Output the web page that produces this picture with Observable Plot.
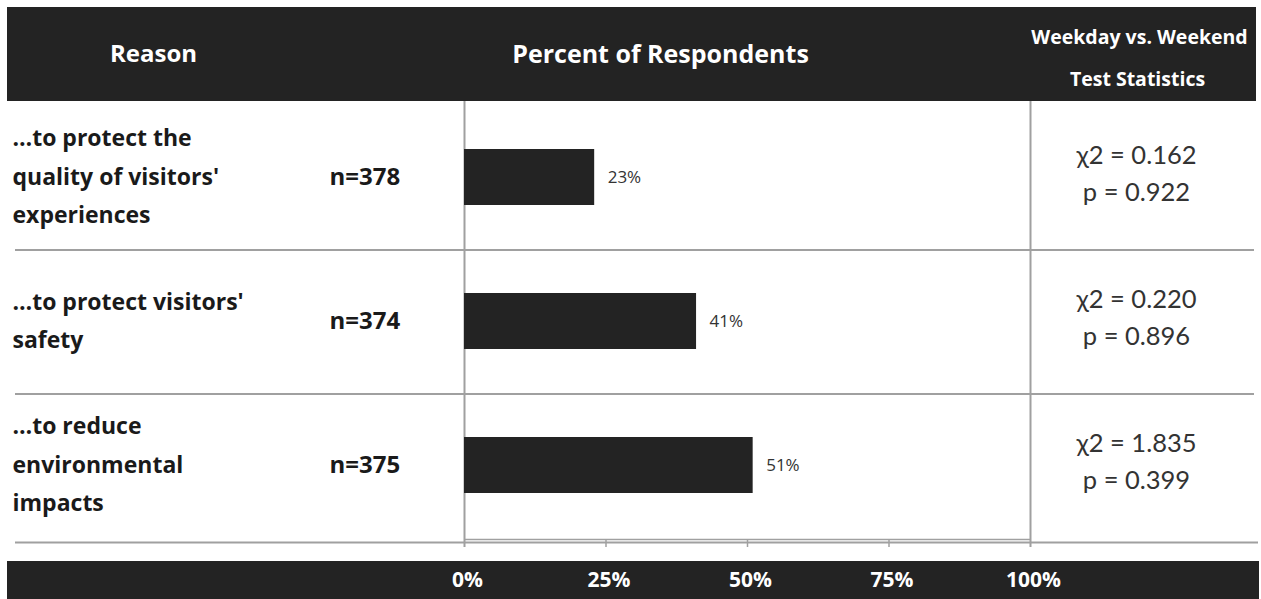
<!DOCTYPE html>
<html>
<head>
<meta charset="utf-8">
<script src="https://cdn.jsdelivr.net/npm/d3@7"></script>
<script src="https://cdn.jsdelivr.net/npm/@observablehq/plot@0.6"></script>
<style>
  html, body { margin: 0; padding: 0; background: #fff; }
  #wrap { position: relative; width: 1261px; height: 599px; overflow: hidden; }
  .band { position: absolute; background: #232323; }
  #wrap svg { position: absolute; left: 0; top: 0; }
</style>
</head>
<body>
<div id="wrap">
  <div class="band" style="left:7px;top:7px;width:1249px;height:94px;"></div>
  <div class="band" style="left:7px;top:561px;width:1252px;height:38px;"></div>
</div>
<script>
// ---- data ----
const reasons = [
  "…to protect the quality of visitors' experiences",
  "…to protect visitors' safety",
  "…to reduce environmental impacts"
];
const reasonLabels = [
  "…to protect the\nquality of visitors'\nexperiences",
  "…to protect visitors'\nsafety",
  "…to reduce\nenvironmental\nimpacts"
];
const nValues = [378, 374, 375];
const percents = [23, 41, 51];
const chiSquare = ["0.162", "0.220", "1.835"];
const pValues = ["0.922", "0.896", "0.399"];
const xTicks = [0, 25, 50, 75, 100];
const headers = ["Reason", "Percent of Respondents", "Weekday vs. Weekend", "Test Statistics"];

const rows = reasons.map((r, i) => ({
  reason: r, label: reasonLabels[i], n: nValues[i], pct: percents[i], chi: chiSquare[i], p: pValues[i]
}));

const bodyFont = "Open Sans";
const gridColor = "#a0a0a0";
const last = reasons.slice(-1);

const chart = Plot.plot({
  width: 1261,
  height: 599,
  margin: 0,
  style: { background: "transparent", overflow: "visible" },
  x: { domain: [0, 100], range: [464, 1030], axis: null },
  y: { domain: reasons, range: [103.6, 538], padding: 0, axis: null },
  marks: [
    // row separators
    Plot.ruleY(reasons.slice(0, -1), { y: d => d, dy: 72.4, stroke: gridColor, strokeWidth: 2, insetLeft: 15, insetRight: 7 }),
    Plot.ruleY(last, { y: d => d, dy: 77, stroke: gridColor, strokeWidth: 2, insetLeft: 15, insetRight: 3 }),
    Plot.ruleY(last, { y: d => d, x1: 0, x2: 100, dy: 74, stroke: gridColor, strokeWidth: 1.5 }),
    // plot area frame
    Plot.ruleX([0, 100], { x: d => d, stroke: gridColor, strokeWidth: 2, insetTop: 101, insetBottom: 52 }),
    Plot.ruleX(xTicks.slice(1, -1), { x: d => d, stroke: gridColor, strokeWidth: 1.5, insetTop: 540, insetBottom: 52 }),
    // bars
    Plot.barX(rows, { x: "pct", y: "reason", fill: "#232323", insetTop: 44, insetBottom: 44 }),
    Plot.text(rows, { x: "pct", y: "reason", text: d => d.pct + "%", textAnchor: "start", dx: 13, fontSize: 17, fill: "#333", fontFamily: bodyFont }),
    // reason labels
    Plot.text(rows, { y: "reason", text: "label", frameAnchor: "left", dx: 12, dy: -5, textAnchor: "start",
      lineHeight: 1.67, fontSize: 23, fontWeight: "bold", fill: "#1a1a1a", fontFamily: bodyFont }),
    // sample sizes
    Plot.text(rows, { y: "reason", text: d => "n=" + d.n, frameAnchor: "left", dx: 329, textAnchor: "start",
      fontSize: 24, fontWeight: "bold", fill: "#1a1a1a", fontFamily: bodyFont }),
    // test statistics
    Plot.text(rows, { y: "reason", text: d => `χ2 = ${d.chi}\np = ${d.p}`, frameAnchor: "right", dx: -125, dy: -7,
      lineAnchor: "middle", textAnchor: "middle", lineHeight: 1.45, fontSize: 25.5, fill: "#333", fontFamily: "Lato" }),
    // tick labels in footer band
    Plot.text(xTicks, { x: d => d, text: d => d + "%", frameAnchor: "bottom", lineAnchor: "middle", dy: -19, dx: 3,
      fill: "white", fontWeight: "bold", fontSize: 21, fontFamily: bodyFont }),
    // header texts
    Plot.text([headers[0]], { frameAnchor: "top-left", lineAnchor: "middle", dx: 153, dy: 54, text: d => d, textAnchor: "middle",
      fill: "white", fontWeight: "bold", fontSize: 24, fontFamily: bodyFont }),
    Plot.text([headers[1]], { frameAnchor: "top-left", lineAnchor: "middle", dx: 660, dy: 54, text: d => d, textAnchor: "middle",
      fill: "white", fontWeight: "bold", fontSize: 25, fontFamily: bodyFont }),
    Plot.text([headers[2]], { frameAnchor: "top-left", lineAnchor: "middle", dx: 1139, dy: 37, text: d => d, textAnchor: "middle",
      fill: "white", fontWeight: "bold", fontSize: 19.5, fontFamily: bodyFont }),
    Plot.text([headers[3]], { frameAnchor: "top-left", lineAnchor: "middle", dx: 1137, dy: 79, text: d => d, textAnchor: "middle",
      fill: "white", fontWeight: "bold", fontSize: 19.5, fontFamily: bodyFont })
  ]
});
document.getElementById("wrap").appendChild(chart);
</script>
</body>
</html>
